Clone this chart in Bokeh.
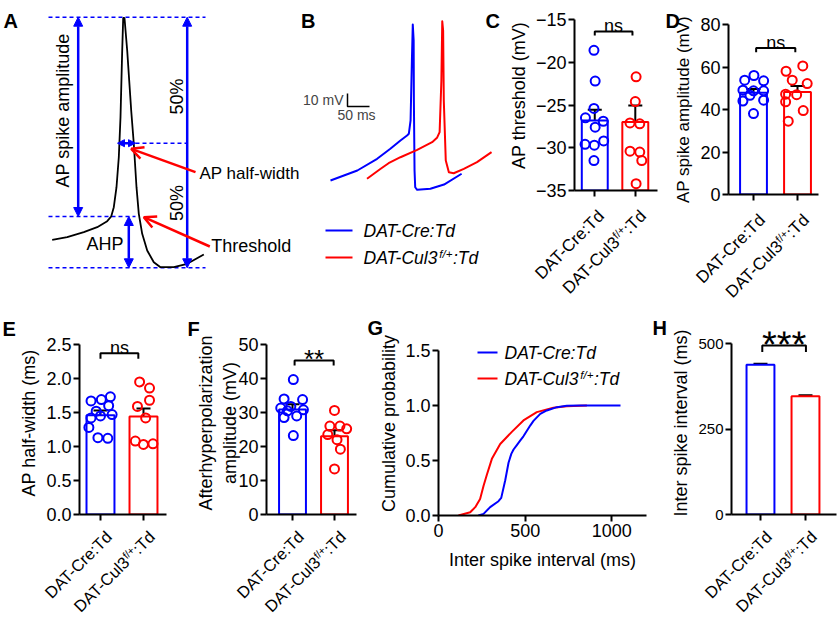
from math import pi
from bokeh.plotting import figure
from bokeh.models import (Range1d, FixedTicker, Label, Arrow, NormalHead, OpenHead,
                          TeeHead, Whisker, ColumnDataSource, NumeralTickFormatter)
from bokeh.layouts import row, column
from bokeh.embed import file_html
from bokeh.resources import INLINE

FONT = "Liberation Sans"
BLUE = "#0000FF"
RED = "#FF0000"
COLORS = [BLUE, RED]

# ================= DATA =================
group_names = ["DAT-Cre:Td", "DAT-Cul3f/+:Td"]
group2_parts = ["DAT-Cul3", "f/+", ":Td"]   # main text, superscript, tail

# (A) schematic action potential (drawing units)
schem_x = [51.7, 66.7, 83.3, 96.7, 106.7, 110.7, 113.3, 116, 118.3, 120, 121.7, 122.7, 124,
           126.7, 130.7, 133.3, 136, 138.3, 141.7, 146.7, 153.3, 160, 173.3, 186.7, 203.3]
schem_y = [239.3, 236.7, 231.7, 226.7, 220.7, 216, 206.7, 186.7, 156.7, 116.7, 50, 17.5, 17.5,
           50, 110, 143.3, 186.7, 213.3, 233.3, 250, 261.7, 266.7, 266.7, 263.3, 254]

# (B) example traces: time (ms), membrane potential (mV)
trace_ctrl_t = [0, 61, 106, 136, 159, 174, 178, 182, 185, 187, 189, 189.5, 191, 192.5, 197, 227, 258, 298]
trace_ctrl_v = [-50, -42.3, -33.3, -25.6, -19.2, -15.4, -14.1, -3.8, 42.3, 70, 57.7, 11.5, -42.3,
                -55.2, -57.2, -56.4, -53.1, -44.8]
trace_cul3_t = [83, 114, 132, 159, 197, 231, 242, 248, 252, 254, 256, 257.5, 262, 269, 280, 303, 333, 366]
trace_cul3_v = [-48.7, -41, -36.7, -32.1, -26.4, -20.5, -17.2, -12.8, 26.9, 72.5, 65.4, 11.5, -34.6,
                -43.6, -44.4, -41, -35.9, -28.2]
scale_mv = 10
scale_ms = 50

# (C) AP threshold (mV)
thr_ctrl = [-18.6, -22.2, -25.4, -26.5, -26.9, -27.6, -29.6, -29.7, -29.2, -31.5]
thr_ctrl_jit = [-0.02, 0.01, -0.02, -0.23, 0.21, 0.01, -0.24, -0.01, 0.22, -0.02]
thr_cul3 = [-21.7, -24.6, -27.1, -27.2, -30.4, -30.5, -31.5, -34.2]
thr_cul3_jit = [0.02, 0.0, -0.13, 0.11, -0.13, 0.11, 0.16, 0.02]
thr_mean = [-26.8, -27.0]
thr_sem = [1.25, 1.95]

# (D) AP spike amplitude (mV)
amp_ctrl = [56.0, 53.8, 53.5, 49.1, 48.8, 48.8, 46.7, 44.0, 44.4, 38.1]
amp_ctrl_jit = [0.01, -0.2, 0.23, -0.24, 0.0, 0.23, -0.08, -0.24, 0.23, 0.0]
amp_cul3 = [60.5, 58.0, 53.8, 52.2, 47.2, 47.0, 43.6, 39.5, 34.5]
amp_cul3_jit = [0.12, -0.26, -0.12, 0.22, -0.27, -0.02, -0.27, 0.13, -0.21]
amp_mean = [47.9, 48.2]
amp_sem = [1.7, 2.9]

# (E) AP half-width (ms)
hw_ctrl = [1.73, 1.69, 1.67, 1.60, 1.52, 1.47, 1.45, 1.42, 1.28, 1.13, 1.12]
hw_ctrl_jit = [0.23, 0.02, -0.22, 0.19, -0.1, 0.27, 0.0, -0.22, -0.27, -0.06, 0.17]
hw_cul3 = [1.95, 1.86, 1.68, 1.59, 1.42, 1.08, 1.03, 1.04]
hw_cul3_jit = [-0.09, 0.14, 0.14, -0.14, 0.05, -0.19, 0.0, 0.22]
hw_mean = [1.46, 1.44]
hw_sem = [0.07, 0.12]

# (F) afterhyperpolarization amplitude (mV)
ahp_ctrl = [39.7, 34.0, 33.8, 31.8, 31.3, 30.8, 30.5, 29.0, 28.5, 23.2]
ahp_ctrl_jit = [0.02, -0.2, 0.24, -0.04, -0.28, 0.26, -0.12, 0.1, -0.2, 0.02]
ahp_cul3 = [30.6, 26.0, 26.0, 25.2, 23.5, 22.0, 19.2, 13.4]
ahp_cul3_jit = [0.0, -0.11, 0.13, 0.29, -0.16, 0.06, 0.14, 0.0]
ahp_mean = [30.9, 23.0]
ahp_sem = [1.5, 1.75]

# (G) cumulative probability of inter spike interval
isi_ctrl_ms = [230, 260, 298, 346, 362, 385, 404, 420, 433, 452, 471, 490, 510, 530, 548, 587,
               625, 683, 740, 817, 1050]
isi_ctrl_cdf = [0, 0.015, 0.076, 0.13, 0.16, 0.32, 0.48, 0.56, 0.60, 0.64, 0.68, 0.72, 0.77,
                0.82, 0.86, 0.924, 0.955, 0.985, 0.997, 1.0, 1.0]
isi_cul3_ms = [115, 183, 212, 240, 260, 279, 308, 356, 423, 490, 567, 663, 740, 856]
isi_cul3_cdf = [0, 0.03, 0.076, 0.15, 0.27, 0.37, 0.515, 0.65, 0.76, 0.864, 0.94, 0.979, 0.994, 1.0]

# (H) mean inter spike interval (ms)
isi_mean = [438, 346]
isi_sem = [2.5, 2.5]

# ================= HELPERS =================
ARIAL_W = {"D": .722, "A": .667, "T": .611, "-": .333, "C": .722, "r": .333, "e": .556,
           ":": .278, "d": .556, "u": .556, "l": .222, "3": .556, "f": .278, "/": .278, "+": .584}


def tw(s, size):
    return sum(ARIAL_W.get(c, 0.556) for c in s) * size


def bare(width, height, xr, yr):
    q = figure(width=width, height=height, x_range=Range1d(*xr), y_range=Range1d(*yr),
               x_axis_type=None, y_axis_type=None, min_border=0, output_backend="svg",
               toolbar_location=None)
    q.outline_line_color = None
    q.background_fill_color = "white"
    q.border_fill_color = "white"
    return q


def style(p):
    p.outline_line_color = None
    p.background_fill_color = "white"
    p.border_fill_color = "white"
    p.xgrid.grid_line_color = None
    p.ygrid.grid_line_color = None
    for ax in p.axis:
        ax.axis_line_width = 2
        ax.axis_line_color = "black"
        ax.major_tick_line_width = 2
        ax.major_tick_line_color = "black"
        ax.major_tick_out = 6
        ax.major_tick_in = 0
        ax.minor_tick_line_color = None
        ax.major_label_text_font = FONT
        ax.major_label_text_font_size = "18px"
        ax.major_label_text_color = "black"
        ax.major_label_standoff = 2
        ax.axis_label_text_font = FONT
        ax.axis_label_text_font_size = "18px"
        ax.axis_label_text_font_style = "normal"
        ax.axis_label_text_color = "black"
        ax.axis_label_standoff = 4


LETTER = dict(text_font=FONT, text_font_size="20px", text_font_style="bold", text_color="black",
              text_align="left", text_baseline="alphabetic")


def letter(p, txt, x, y):
    p.add_layout(Label(x=x, y=y, text=txt, **LETTER))


def side_letter(p, txt, cx, cy):
    # placed in the top side panel (canvas pixels of this figure), so it is not clipped
    p.add_layout(Label(x=cx, y=cy, x_units="canvas", y_units="canvas", text=txt, **LETTER), "above")


def add_cat_labels(p, y0, size=17, sup_size=11, dy=16, dx=2):
    c = 0.70711
    common = dict(angle=pi / 4, text_align="right", text_baseline="top", text_font=FONT,
                  text_color="black")
    p.add_layout(Label(x=1, y=y0, text=group_names[0], x_offset=dx, y_offset=-dy,
                       text_font_size=f"{size}px", **common))
    main, sup, tail = group2_parts
    pieces = [(tail, size, 0.0, 0.0),
              (sup, sup_size, tw(tail, size), 0.5),
              (main, size, tw(tail, size) + tw(sup, sup_size) + 0.3, 0.0)]
    for txt, sz, d, u in pieces:
        p.add_layout(Label(x=2, y=y0, text=txt, x_offset=dx - c * (d + u),
                           y_offset=-dy - c * d + c * u, text_font_size=f"{sz}px", **common))


def legend_text(p, x, y, idx, size=17.5, sup_size=11.5):
    common = dict(text_font=FONT, text_font_style="italic", text_color="black",
                  text_align="left", text_baseline="middle")
    if idx == 0:
        p.add_layout(Label(x=x, y=y, text=group_names[0], text_font_size=f"{size}px", **common))
        return
    main, sup, tail = group2_parts
    p.add_layout(Label(x=x, y=y, text=main, text_font_size=f"{size}px", **common))
    p.add_layout(Label(x=x, y=y, text=sup, x_offset=tw(main, size) - 1.0, y_offset=3.5,
                       text_font_size=f"{sup_size}px", **common))
    p.add_layout(Label(x=x, y=y, text=tail, x_offset=tw(main, size) + tw(sup, sup_size) - 0.5,
                       text_font_size=f"{size}px", **common))


def bar_panel(x_left, x_right, top_px, frame_top_px, bottom_px, axis_x_px, frame_right_px,
              y1_px, axis_px, xr, y0, y1, yticks, ylabel, means, sems, vals, jits, bar_w,
              bx0, bx1, by_, drop, sig, sig_size, sig_off, fmt=None, Bm=12, cat=(17, 11, 16)):
    width = x_right - x_left
    L = axis_x_px - x_left
    R = x_right - frame_right_px
    T = frame_top_px - top_px
    main_h = axis_px - top_px + Bm
    y_ext = y1 + (y1_px - frame_top_px) * (y1 - y0) / (axis_px - y1_px)
    p = figure(width=width, height=main_h, x_range=Range1d(*xr), y_range=Range1d(y0, y_ext),
               output_backend="svg", toolbar_location=None,
               min_border_left=L, min_border_right=R, min_border_top=T, min_border_bottom=Bm)
    style(p)
    p.xaxis.ticker = FixedTicker(ticks=[1, 2])
    p.xaxis.major_label_overrides = {1: "", 2: ""}
    p.xaxis.major_label_text_font_size = "1px"
    p.yaxis.ticker = FixedTicker(ticks=yticks)
    p.yaxis.bounds = (y0, y1)
    if fmt:
        p.yaxis.formatter = NumeralTickFormatter(format=fmt)
    p.yaxis.axis_label = ylabel
    p.vbar(x=[1, 2], top=means, bottom=y0, width=bar_w, fill_color="white",
           line_color=COLORS, line_width=2)
    for i in range(2):
        if vals[i]:
            xs = [i + 1 + j for j in jits[i]]
            p.scatter(xs, vals[i], marker="circle", size=9, fill_color=None,
                      line_color=COLORS[i], line_width=2)
    src = ColumnDataSource(dict(x=[1, 2], upper=[m + s for m, s in zip(means, sems)],
                                lower=[m - s for m, s in zip(means, sems)]))
    p.add_layout(Whisker(source=src, base="x", upper="upper", lower="lower", dimension="height",
                         line_color="black", line_width=2,
                         upper_head=TeeHead(size=14, line_color="black", line_width=2),
                         lower_head=TeeHead(size=14, line_color="black", line_width=2)))
    p.line([bx0, bx0, bx1, bx1], [by_ - drop, by_, by_, by_ - drop], line_color="black",
           line_width=2)
    p.add_layout(Label(x=(bx0 + bx1) / 2, y=by_, text=sig, y_offset=sig_off, text_font=FONT,
                       text_font_size=sig_size, text_color="black", text_align="center",
                       text_baseline="alphabetic"))
    # category labels, in a strip below the axis sharing the same data->pixel mapping
    lab_h = bottom_px - (axis_px + Bm)
    kx = (width - L - R) / (xr[1] - xr[0])
    q = bare(width, lab_h, (xr[0] - L / kx, xr[1] + R / kx), (-(Bm + lab_h), -Bm))
    add_cat_labels(q, 0, size=cat[0], sup_size=cat[1], dy=cat[2])
    return p, q


BOTTOM_CAT = (16.5, 10.5, 13)

# ================= PANEL A =================
pA = bare(300, 305, (0, 300), (305, 0))
pA.segment(x0=[48, 135, 48, 48], y0=[16.7, 142.7, 216, 267.3],
           x1=[205, 187, 135, 205], y1=[16.7, 142.7, 216, 267.3],
           line_color=BLUE, line_width=1.5, line_dash="4 3")
pA.line(schem_x, schem_y, line_color="black", line_width=1.8)
for (x0, y0, x1, y1, hs) in [(77.7, 16.7, 77.7, 216, 9), (186.7, 16.7, 186.7, 267.3, 9),
                             (128.3, 216, 128.3, 267.3, 9), (117, 142.7, 135, 142.7, 7)]:
    pA.add_layout(Arrow(start=NormalHead(size=hs, fill_color=BLUE, line_color=BLUE),
                        end=NormalHead(size=hs, fill_color=BLUE, line_color=BLUE),
                        x_start=x0, y_start=y0, x_end=x1, y_end=y1,
                        line_color=BLUE, line_width=2.5))
for (x0, y0, x1, y1) in [(195, 171.7, 130.7, 148.3), (209.3, 246, 143.3, 216.7)]:
    pA.add_layout(Arrow(end=OpenHead(size=12, line_color=RED, line_width=2.5),
                        x_start=x0, y_start=y0, x_end=x1, y_end=y1,
                        line_color=RED, line_width=2.5))
txtA = dict(text_font=FONT, text_font_size="18px", text_color="black")
pA.add_layout(Label(x=62.5, y=110, text="AP spike amplitude", angle=pi / 2, text_align="center",
                    text_baseline="middle", **txtA))
pA.add_layout(Label(x=176, y=96, text="50%", angle=pi / 2, text_align="center",
                    text_baseline="middle", **txtA))
pA.add_layout(Label(x=176, y=202.5, text="50%", angle=pi / 2, text_align="center",
                    text_baseline="middle", **txtA))
pA.add_layout(Label(x=123, y=243, text="AHP", text_align="right", text_baseline="middle", **txtA))
pA.add_layout(Label(x=199, y=173, text="AP half-width", text_align="left", text_baseline="middle",
                    text_font=FONT, text_font_size="17px", text_color="black"))
pA.add_layout(Label(x=210.7, y=245, text="Threshold", text_align="left", text_baseline="middle",
                    **txtA))
letter(pA, "A", 3, 20.5)


# ================= PANEL B =================
def bx(px):
    return (px - 330.0) / 0.44


def by(py):
    return (180.0 - py) / 1.3 - 50.0


pB = bare(205, 305, (bx(300), bx(505)), (by(305), by(0)))
pB.line(trace_ctrl_t, trace_ctrl_v, line_color=BLUE, line_width=2, line_join="round")
pB.line(trace_cul3_t, trace_cul3_v, line_color=RED, line_width=2, line_join="round")
sx0, sy0 = bx(347), by(106)
pB.line([sx0, sx0, sx0 + scale_ms], [sy0 + scale_mv, sy0, sy0], line_color="black", line_width=1.5)
pB.add_layout(Label(x=bx(343), y=by(99), text=f"{scale_mv} mV", text_align="right",
                    text_baseline="middle", text_font=FONT, text_font_size="14px"))
pB.add_layout(Label(x=bx(337), y=by(114), text=f"{scale_ms} ms", text_align="left",
                    text_baseline="middle", text_font=FONT, text_font_size="14px"))
pB.segment(x0=[bx(325)] * 2, x1=[bx(352)] * 2, y0=[by(230), by(257)], y1=[by(230), by(257)],
           line_color=COLORS, line_width=2)
legend_text(pB, bx(363), by(230), 0)
legend_text(pB, bx(363), by(257), 1)
letter(pB, "B", bx(300.5), by(20.5))
letter(pB, "C", bx(485), by(20.5))

# ================= PANELS C, D =================
pC, qC = bar_panel(505, 660, 0, 0, 305, 571, 657, 19, 190, (0.5, 2.548), -35, -15,
                   [-35, -30, -25, -20, -15], "AP threshold (mV)", thr_mean, thr_sem,
                   [thr_ctrl, thr_cul3], [thr_ctrl_jit, thr_cul3_jit], 0.64,
                   1.0, 1.93, -16.4, 0.47, "ns", "18px", 5)
pD, qD = bar_panel(660, 837, 0, 24, 305, 728, 818, 24, 194, (0.432, 2.477), 0, 80,
                   [0, 20, 40, 60, 80], "AP spike amplitude (mV)", amp_mean, amp_sem,
                   [amp_ctrl, amp_cul3], [amp_ctrl_jit, amp_cul3_jit], 0.61,
                   1.06, 1.95, 69, 2.0, "ns", "18px", 5)
pD.yaxis.axis_label_text_font_size = "17px"
side_letter(pD, "D", 5, 20.5)

# ================= PANELS E, F =================
pE, qE = bar_panel(0, 186, 305, 331, 620, 79, 166, 344, 514, (0.512, 2.535), 0, 2.5,
                   [0, 0.5, 1.0, 1.5, 2.0, 2.5], "AP half-width (ms)", hw_mean, hw_sem,
                   [hw_ctrl, hw_cul3], [hw_ctrl_jit, hw_cul3_jit], 0.65,
                   1.0, 1.88, 2.37, 0.08, "ns", "18px", 5, fmt="0.0", cat=BOTTOM_CAT)
side_letter(pE, "E", 2, 23)
pF, qF = bar_panel(186, 362, 305, 331, 620, 266, 356, 344, 514, (0.381, 2.524), 0, 50,
                   [0, 10, 20, 30, 40, 50], "Afterhyperpolarization\namplitude (mV)",
                   ahp_mean, ahp_sem, [ahp_ctrl, ahp_cul3], [ahp_ctrl_jit, ahp_cul3_jit], 0.64,
                   1.05, 1.98, 45.3, 1.5, "**", "26px", 1, cat=BOTTOM_CAT)
pF.yaxis.axis_label_standoff = -5
side_letter(pF, "F", 1, 23)

# ================= PANEL G =================
g_top, g_ftop, g_y1px, g_axis = 305, 331, 350, 515
pG = figure(width=286, height=315, x_range=Range1d(0, 1200),
            y_range=Range1d(0, 1.5 + (g_y1px - g_ftop) * 1.5 / (g_axis - g_y1px)),
            output_backend="svg", toolbar_location=None,
            min_border_left=76, min_border_right=2, min_border_top=g_ftop - g_top,
            min_border_bottom=620 - g_axis)
style(pG)
pG.xaxis.ticker = FixedTicker(ticks=[0, 500, 1000])
pG.yaxis.ticker = FixedTicker(ticks=[0, 0.5, 1.0, 1.5])
pG.yaxis.bounds = (0, 1.5)
pG.yaxis.formatter = NumeralTickFormatter(format="0.0")
pG.xaxis.axis_label = "Inter spike interval (ms)"
pG.yaxis.axis_label = "Cumulative probability"
pG.xaxis.axis_label_standoff = 10
pG.yaxis.axis_label_standoff = 3
pG.line(isi_cul3_ms, isi_cul3_cdf, line_color=RED, line_width=2)
pG.line(isi_ctrl_ms, isi_ctrl_cdf, line_color=BLUE, line_width=2)


def gx(px):
    return (px - 438.0) / 0.17333


def gy(py):
    return (515.0 - py) / 110.0


pG.segment(x0=[gx(477)] * 2, x1=[gx(497)] * 2, y0=[gy(352), gy(378)], y1=[gy(352), gy(378)],
           line_color=COLORS, line_width=2)
legend_text(pG, gx(504), gy(352), 0)
legend_text(pG, gx(504), gy(378), 1)
side_letter(pG, "G", 5, 22)

# ================= PANEL H =================
pH, qH = bar_panel(648, 837, 305, 331, 620, 731, 836, 343, 514, (0.356, 2.689), 0, 500,
                   [0, 250, 500], "Inter spike interval (ms)", isi_mean, isi_sem, [[], []],
                   [[], []], 0.62, 1.04, 2.01, 494, 19, "***", "38px", 0.5, cat=BOTTOM_CAT)
pH.yaxis.major_label_text_font_size = "15px"
side_letter(pH, "H", 4, 22)


def W(*items):
    return column(*[row(i) for i in items])


top = row(row(pA), row(pB), W(pC, qC), W(pD, qD))
bottom = row(W(pE, qE), W(pF, qF), row(pG), W(pH, qH))
layout = column(top, bottom)
open("out.html", "w").write(file_html(layout, INLINE))
